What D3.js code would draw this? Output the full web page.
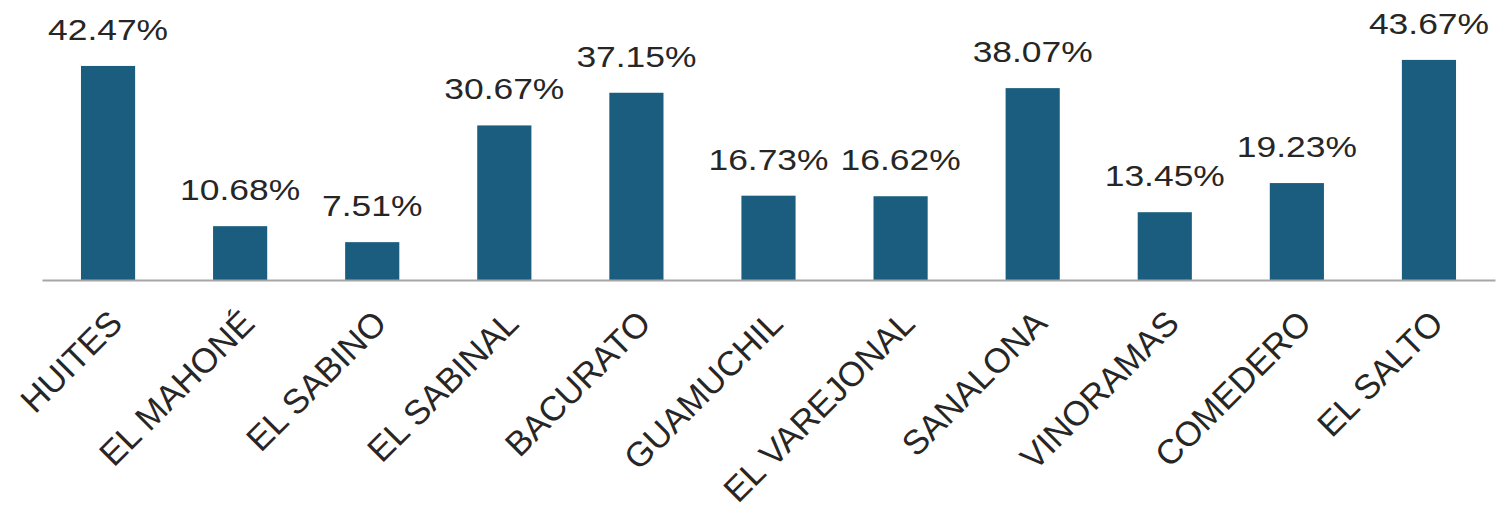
<!DOCTYPE html>
<html>
<head>
<meta charset="utf-8">
<script src="https://cdn.jsdelivr.net/npm/d3@7"></script>
<style>
  body { margin: 0; background: #fff; }
  svg text { font-family: "Liberation Sans", Arial, sans-serif; fill: #262626; }
</style>
</head>
<body>
<script>
// presas y porcentajes de llenado
var categories = ['HUITES', 'EL MAHONÉ', 'EL SABINO', 'EL SABINAL', 'BACURATO', 'GUAMUCHIL',
  'EL VAREJONAL', 'SANALONA', 'VINORAMAS', 'COMEDERO', 'EL SALTO'];
var values = [42.47, 10.68, 7.51, 30.67, 37.15, 16.73, 16.62, 38.07, 13.45, 19.23, 43.67];
var valueLabels = ['42.47%', '10.68%', '7.51%', '30.67%', '37.15%', '16.73%', '16.62%',
  '38.07%', '13.45%', '19.23%', '43.67%'];

var chart = {
  width: 1507,
  height: 514,
  left: 42,
  right: 1495,
  base: 280,
  stretch: 1.2   // value labels come out wider than normal
};

var svg = d3.select('body').append('svg')
  .attr('width', chart.width)
  .attr('height', chart.height);

var x = d3.scaleBand()
  .domain(categories)
  .range([chart.left, chart.right])
  .paddingInner(0.59)
  .paddingOuter(0.295);

var y = d3.scaleLinear()
  .domain([0, 45])
  .range([chart.base, chart.base - 45 * 5.04]);

var data = categories.map(function(c, i) {
  return { name: c, value: values[i], label: valueLabels[i] };
});

// bars
svg.selectAll('.bar').data(data)
  .enter().append('rect')
  .attr('class', 'bar')
  .attr('x', function(d) { return x(d.name); })
  .attr('y', function(d) { return y(d.value); })
  .attr('width', x.bandwidth())
  .attr('height', function(d) { return chart.base - y(d.value); })
  .attr('fill', '#1a5d7e');

// axis line
var axis = svg.append('g')
  .attr('transform', 'translate(0,' + chart.base + ')')
  .call(d3.axisBottom(x).tickSize(0).tickFormat(''));
axis.select('.domain').attr('stroke', '#a6a6a6').attr('stroke-width', 2);

// value labels
svg.selectAll('.val').data(data)
  .enter().append('text')
  .attr('class', 'val')
  .attr('transform', function(d) {
    var cx = x(d.name) + x.bandwidth() / 2;
    return 'translate(' + cx + ',' + (y(d.value) - 26) + ') scale(' + chart.stretch + ',1)';
  })
  .attr('text-anchor', 'middle')
  .style('font-size', '29.5px')
  .text(function(d) { return d.label; });

// category labels, rotated
svg.selectAll('.cat').data(data)
  .enter().append('text')
  .attr('class', 'cat')
  .attr('transform', function(d) {
    var cx = x(d.name) + x.bandwidth() / 2;
    return 'translate(' + (cx - 1) + ',' + (chart.base + 28) + ') rotate(-45)';
  })
  .attr('text-anchor', 'end')
  .attr('dy', '0.71em')
  .style('font-size', '34.5px')
  .text(function(d) { return d.name; });
</script>
</body>
</html>
